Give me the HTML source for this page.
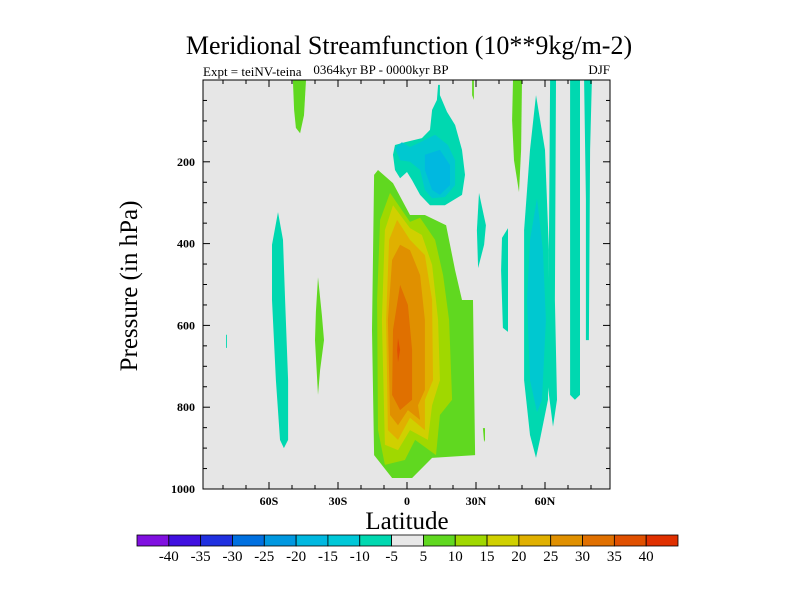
<!DOCTYPE html>
<html><head><meta charset="utf-8"><style>
body{margin:0;background:#fff;}
svg text{font-family:"Liberation Serif",serif;fill:#000;}
</style></head><body>
<svg id="chart" width="800" height="600" xmlns="http://www.w3.org/2000/svg">
<rect width="800" height="600" fill="#fff"/>
<text x="409" y="54" font-size="26" text-anchor="middle">Meridional Streamfunction (10**9kg/m-2)</text>
<text x="203" y="76" font-size="13">Expt = teiNV-teina</text>
<text x="381" y="74" font-size="13" text-anchor="middle">0364kyr BP - 0000kyr BP</text>
<text x="610" y="74" font-size="13" text-anchor="end">DJF</text>
<text x="0" y="0" font-size="25" text-anchor="middle" transform="translate(137,286) rotate(-90)">Pressure (in hPa)</text>
<text x="407" y="529" font-size="25" text-anchor="middle">Latitude</text>
<rect x="203" y="80" width="407" height="409" fill="#e6e6e6"/>
<g id="fills"></g>
<g id="axes"></g>
<g id="colorbar"></g>
</svg>
<script>
const levels = [5,10,15,20,25,30,35,-5,-10,-15];
const levelColors = ["#60d820","#a0d800","#d0d000","#e0b000","#e09000","#e07000","#e05000","#00d8b0","#00c8d0","#00b8e0"];
const regions = [
 [0,[-12.6,220,-6.1,252,1.3,330,7.8,330,17,355,20.9,465,23.9,538,28.7,538,29.6,917,10.9,924,2.2,973,-6.5,973,-14.3,917,-15.2,611,-14.3,232]],
 [1,[-7.4,276,-2.2,318,1.3,347,5.7,337,12.2,391,15.7,477,18.3,587,19.6,782,14.3,819,12.6,917,3.5,880,-0.9,929,-9.6,941,-12.6,856,-13,538,-11.7,342]],
 [2,[-6.1,306,1.3,362,6.5,379,10.9,452,13.5,587,14.3,734,10.9,795,9.1,880,1.3,856,-3.9,905,-9.6,892,-10.9,587,-9.6,367]],
 [3,[-4.3,342,1.3,391,7.8,428,10.9,538,11.3,734,7.8,782,7.8,856,1.3,826,-3.9,880,-8.3,856,-9.1,587,-7.8,391]],
 [4,[-3,403,1.3,416,5.7,477,7.8,587,7.8,758,4.8,795,5.7,831,0.4,807,-3.9,844,-7.4,819,-8.3,587,-6.5,440]],
 [5,[-3,501,0.4,550,2.2,660,2.2,782,-3,807,-6.5,770,-6.1,611]],
 [6,[-3.9,631,-3,660,-3.9,690,-4.3,660]],
 [7,[13.5,12,13,49,10.9,73,10,122,6.5,142,-0.9,152,-5.2,159,-6.1,183,-5.2,220,-3,240,0,225,2.2,245,5.7,281,10,306,16.5,306,23.9,281,25.2,232,23.9,171,20.9,110,17.4,78,14.3,37,14.3,12]],
 [8,[-5.2,166,-2.2,152,1.3,164,5.7,152,12.2,134,17.8,159,20.9,196,20.9,257,16.5,286,10.9,289,7.8,269,5.7,220,1.3,200,-3,196]],
 [9,[7.8,183,14.3,171,18.7,208,18.7,257,14.3,281,10.9,269,7.8,220]],
 [0,[46.1,0,50,0,49.6,171,48.7,274,46.5,196,45.7,98]],
 [0,[28.3,0,29.1,0,29.1,49,28.3,37]],
 [7,[31.3,276,34.3,355,33.5,403,30.9,460,30.4,367]],
 [7,[43.9,362,43.9,616,41.7,606,40.9,465,41.3,386]],
 [7,[56.1,37,60,171,61.7,416,61.3,782,57.8,880,56.1,924,53.5,868,50.9,734,50.9,367,53.5,171]],
 [8,[56.5,289,59.1,416,60.4,587,58.7,782,56.5,812,53.5,734,52.2,538,53.5,391]],
 [7,[62.2,0,64.8,0,64.3,538,65.2,782,63.5,848,60.9,734,61.7,416]],
 [7,[70.9,0,75.2,0,75.2,770,73,782,70.9,770]],
 [7,[77,0,80.4,0,79.6,171,79.1,636,77.8,636,77.8,293]],
 [0,[33,851,33.9,851,33.9,880,33.5,885]],
 [0,[-49.6,0,-43.9,0,-44.8,86,-46.5,130,-48.3,117,-49.1,73]],
 [7,[-56.1,323,-53.9,391,-53,538,-51.7,734,-51.7,880,-53.5,900,-55.2,880,-57,734,-58.7,538,-58.7,403]],
 [0,[-38.7,482,-37,575,-36.1,636,-37.8,709,-38.7,770,-40,636,-39.6,567]],
 [7,[-78.7,623,-78.3,623,-78.3,655,-78.7,655]]
];
const xTickLats = [-60,-30,0,30,60];
const xTickLabels = ["60S","30S","0","30N","60N"];
const yTickValues = [200,400,600,800,1000];
const cbarLabels = ["-40","-35","-30","-25","-20","-15","-10","-5","5","10","15","20","25","30","35","40"];
const cbarColors = ["#8010e0","#4010e0","#2030e0","#0070e0","#0098e0","#00b8e0","#00c8d8","#00d8b0","#e8e8e8","#60d820","#a0d800","#d0d000","#e0b000","#e09000","#e07000","#e05000","#e03000"];

const NS="http://www.w3.org/2000/svg";
const X0=203,X1=610,Y0=80,Y1=489;
function xs(lat){return 407+lat*2.3;}
function ys(p){return Y0+p*(Y1-Y0)/1000;}
function mk(t,a,parent){const e=document.createElementNS(NS,t);for(const k in a)e.setAttribute(k,a[k]);parent.appendChild(e);return e;}
const fills=document.getElementById('fills');
const clip=mk('clipPath',{id:'pc'},document.getElementById('chart'));
mk('rect',{x:X0,y:Y0,width:X1-X0,height:Y1-Y0},clip);
fills.setAttribute('clip-path','url(#pc)');
regions.forEach((r,i)=>{
  const pts=[];for(let k=0;k<r[1].length;k+=2)pts.push(xs(r[1][k]).toFixed(1)+","+ys(r[1][k+1]).toFixed(1));
  const el=mk('polygon',{points:pts.join(' '),fill:levelColors[r[0]]},fills);
  
  
});
const ax=document.getElementById('axes');
const fr=mk('rect',{x:X0,y:Y0,width:X1-X0,height:Y1-Y0,fill:'none',stroke:'#000','stroke-width':1},ax);


for(let lat=-80;lat<=80;lat+=10){
  const x=xs(lat);const maj=lat%30===0;const L=maj?7:4;
  mk('line',{x1:x,x2:x,y1:Y1,y2:Y1-L,stroke:'#000'},ax);
  mk('line',{x1:x,x2:x,y1:Y0,y2:Y0+L,stroke:'#000'},ax);
}
xTickLats.forEach((lat,i)=>{
  const t=mk('text',{x:xs(lat),y:Y1+16,'font-size':12,'font-weight':'bold','text-anchor':'middle'},ax);t.textContent=xTickLabels[i];
  
  
});
for(let p=50;p<1000;p+=50){
  const y=ys(p);const maj=p%200===0;const L=maj?7:4;
  mk('line',{x1:X0,x2:X0+L,y1:y,y2:y,stroke:'#000'},ax);
  mk('line',{x1:X1,x2:X1-L,y1:y,y2:y,stroke:'#000'},ax);
}
yTickValues.forEach(v=>{
  const t=mk('text',{x:X0-8,y:ys(v)+4,'font-size':12,'font-weight':'bold','text-anchor':'end'},ax);t.textContent=v;
  
  
});
const cb=document.getElementById('colorbar');
const CX=137,CW=541,CY=535,CH=11,bw=CW/cbarColors.length;
cbarColors.forEach((c,i)=>{
  const r=mk('rect',{x:CX+i*bw,y:CY,width:bw,height:CH,fill:c,stroke:'#000','stroke-width':0.8},cb);
  
  
});
cbarLabels.forEach((l,i)=>{
  const t=mk('text',{x:CX+(i+1)*bw,y:CY+26,'font-size':15,'text-anchor':'middle'},cb);t.textContent=l;
  
  
});
</script>
</body></html>
